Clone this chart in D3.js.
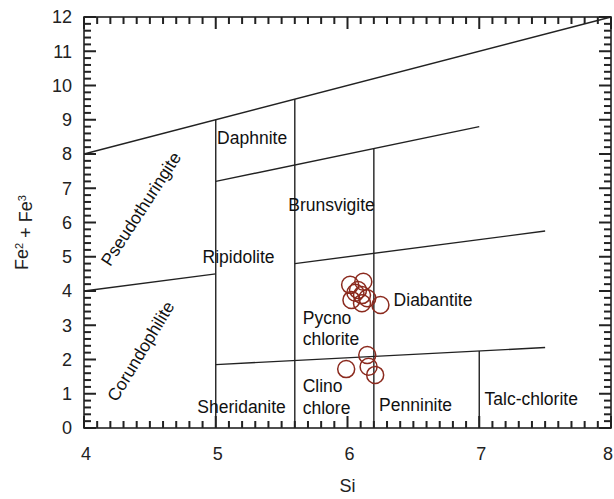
<!DOCTYPE html>
<html>
<head>
<meta charset="utf-8">
<script src="https://cdn.jsdelivr.net/npm/d3@7"></script>
<style>
  body { margin: 0; background: #fff; }
  svg text { font-family: "Liberation Sans", Arial, sans-serif; }
</style>
</head>
<body>
<div id="chart"></div>
<script>
// Boundary segments [x1, y1, x2, y2] in data units
const boundaryLines = [
    [4, 8, 8, 12],
    [4, 4, 5, 4.5],
    [5.6, 4.8, 7.5, 5.75],
    [5, 7.2, 7, 8.8],
    [5, 1.85, 7.5, 2.35],
    [5, 0, 5, 9],
    [5.6, 0, 5.6, 9.6],
    [6.2, 0, 6.2, 8.16],
    [7, 0, 7, 2.25]
];

// Samples
const siValues = [6.02, 6.12, 6.08, 6.11, 6.03, 6.15, 6.11, 6.25, 6.06, 5.99, 6.15, 6.16, 6.21];
const feValues = [4.18, 4.27, 4.03, 3.88, 3.74, 3.79, 3.64, 3.59, 3.95, 1.72, 2.13, 1.79, 1.55];

// Field labels [text, x, y, rotation]
const fieldLabels = [
    ["Daphnite", 5.01, 8.3, 0],
    ["Brunsvigite", 5.55, 6.33, 0],
    ["Ripidolite", 4.9, 4.83, 0],
    ["Diabantite", 6.35, 3.55, 0],
    ["Pycno", 5.66, 3.05, 0],
    ["chlorite", 5.66, 2.43, 0],
    ["Clino", 5.66, 1.04, 0],
    ["chlore", 5.66, 0.4, 0],
    ["Sheridanite", 4.86, 0.45, 0],
    ["Penninite", 6.24, 0.5, 0],
    ["Talc-chlorite", 7.04, 0.68, 0],
    ["Pseudothuringite", 4.47, 6.3, -57],
    ["Corundophilite", 4.47, 2.15, -59]
];

const xTicks = [4, 5, 6, 7, 8];
const yTicks = d3.range(0, 13);
const xMinor = d3.range(40, 81).map(d => d / 10);
const yMinor = d3.range(0, 61).map(d => d / 5);

const margin = { top: 17, right: 3, bottom: 71, left: 84 },
    fullW = 614, fullH = 499,
    width = fullW - margin.left - margin.right,
    height = fullH - margin.top - margin.bottom;

const svg = d3.select("#chart").append("svg")
    .attr("width", fullW)
    .attr("height", fullH)
    .append("g")
    .attr("transform", "translate(" + margin.left + "," + margin.top + ")");

const x = d3.scaleLinear().domain([4, 8]).range([0, width]);
const y = d3.scaleLinear().domain([0, 12]).range([height, 0]);

// Inward ticks on all four sides
const isMajor = v => Math.abs(v - Math.round(v)) < 1e-6;
const tickG = svg.append("g");

tickG.selectAll(".xb").data(xMinor).enter().append("rect")
    .attr("x", d => x(d) - 1)
    .attr("y", d => height - (isMajor(d) ? 12 : 7))
    .attr("width", 2)
    .attr("height", d => isMajor(d) ? 12 : 7)
    .attr("fill", "#222");
tickG.selectAll(".xt").data(xMinor).enter().append("rect")
    .attr("x", d => x(d) - 1)
    .attr("y", 0)
    .attr("width", 2)
    .attr("height", d => isMajor(d) ? 12 : 7)
    .attr("fill", "#222");
tickG.selectAll(".yl").data(yMinor).enter().append("rect")
    .attr("x", 0)
    .attr("y", d => y(d) - 1)
    .attr("width", d => isMajor(d) ? 12 : 7)
    .attr("height", 2)
    .attr("fill", "#222");
tickG.selectAll(".yr").data(yMinor).enter().append("rect")
    .attr("x", d => width - (isMajor(d) ? 12 : 7))
    .attr("y", d => y(d) - 1)
    .attr("width", d => isMajor(d) ? 12 : 7)
    .attr("height", 2)
    .attr("fill", "#222");

// Tick labels
svg.append("g").selectAll("text")
    .data(xTicks).enter().append("text")
    .attr("x", (d, i) => x(d) + 2)
    .attr("y", height + 32)
    .attr("text-anchor", (d, i) => i === xTicks.length - 1 ? "end" : "middle")
    .style("font-size", "18px")
    .attr("fill", "#222")
    .text(d => d);

svg.append("g").selectAll("text")
    .data(yTicks).enter().append("text")
    .attr("x", -12)
    .attr("y", d => y(d))
    .attr("dy", "0.36em")
    .attr("text-anchor", "end")
    .style("font-size", "18px")
    .attr("fill", "#222")
    .text(d => d);

// Frame
svg.append("rect")
    .attr("width", width)
    .attr("height", height)
    .attr("fill", "none")
    .attr("stroke", "#222")
    .attr("stroke-width", 1.6);

// Field boundaries
svg.append("g").selectAll("line")
    .data(boundaryLines).enter().append("line")
    .attr("x1", d => x(d[0]))
    .attr("y1", d => y(d[1]))
    .attr("x2", d => x(d[2]))
    .attr("y2", d => y(d[3]))
    .attr("stroke", "#222")
    .attr("stroke-width", 1.4);

// Field labels
svg.append("g").selectAll("text")
    .data(fieldLabels).enter().append("text")
    .attr("transform", d => "translate(" + x(d[1]) + "," + y(d[2]) + ") rotate(" + d[3] + ")")
    .attr("text-anchor", d => d[3] ? "middle" : "start")
    .style("font-size", "17.5px")
    .attr("fill", "#111")
    .text(d => d[0]);

// Sample circles
svg.append("g").selectAll("circle")
    .data(siValues.map((s, i) => [s, feValues[i]])).enter().append("circle")
    .attr("cx", d => x(d[0]))
    .attr("cy", d => y(d[1]))
    .attr("r", 8.5)
    .attr("fill", "none")
    .attr("stroke", "#8b2a1e")
    .attr("stroke-width", 1.5);

// Axis titles
svg.append("text")
    .attr("x", x(6))
    .attr("y", height + 64)
    .attr("text-anchor", "middle")
    .style("font-size", "18px")
    .attr("fill", "#222")
    .text("Si");

const yTitle = svg.append("text")
    .attr("transform", "translate(" + (-56) + "," + (height / 2 + 10) + ") rotate(-90)")
    .attr("text-anchor", "middle")
    .style("font-size", "18px")
    .attr("fill", "#222");
yTitle.append("tspan").text("Fe");
yTitle.append("tspan").attr("dy", "-0.5em").style("font-size", "11px").text("2");
yTitle.append("tspan").attr("dy", "0.5em").text(" + Fe");
yTitle.append("tspan").attr("dy", "-0.5em").style("font-size", "11px").text("3");
</script>
</body>
</html>
